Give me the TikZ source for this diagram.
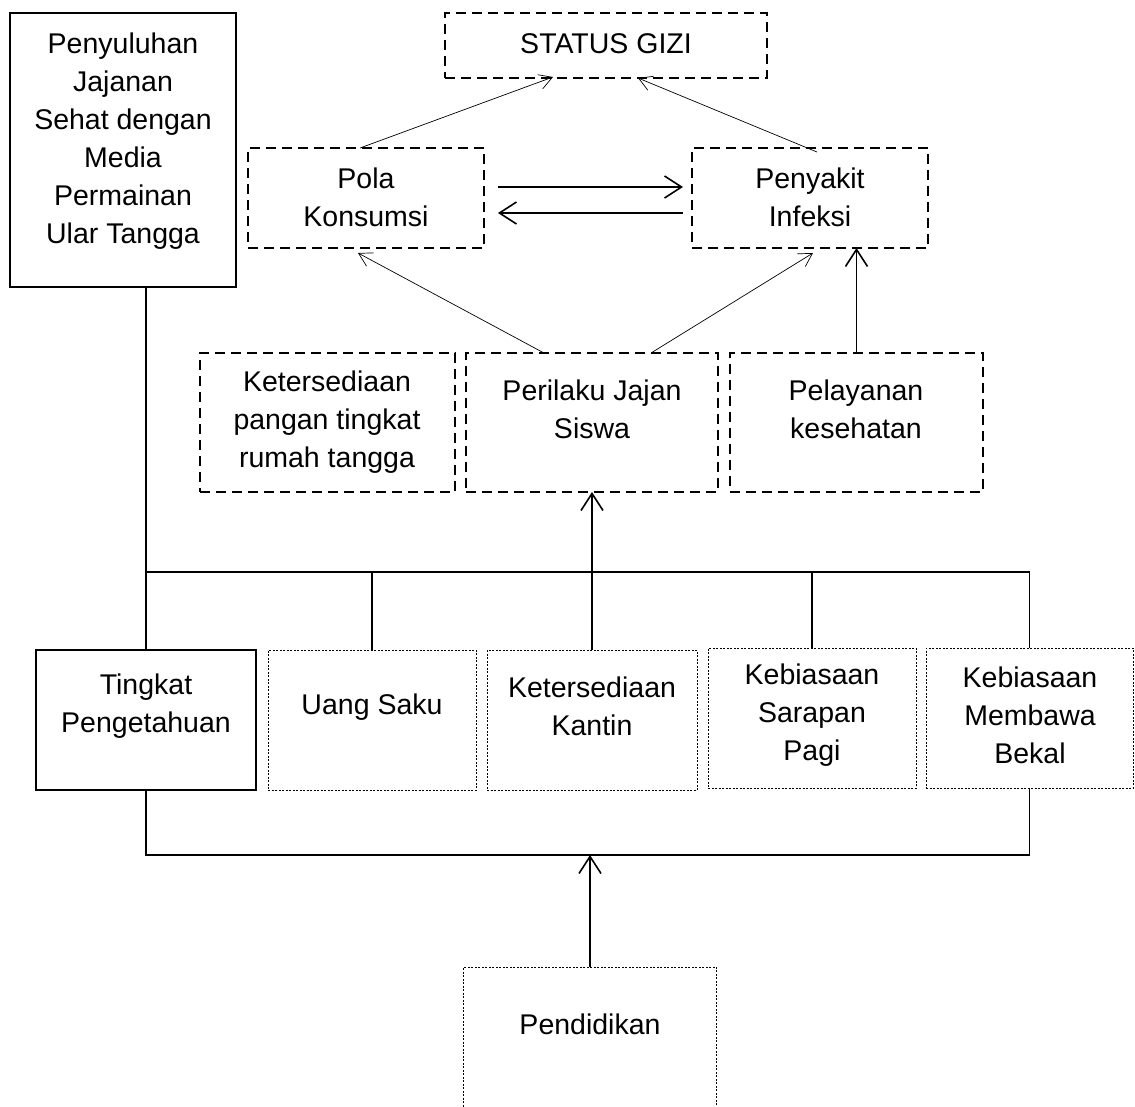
\documentclass[tikz,border=0pt]{standalone}
\usepackage{fontspec}
\setmainfont{Liberation Sans}
\usetikzlibrary{arrows.meta,calc}
\begin{document}
\begin{tikzpicture}[x=1pt,y=-1pt,
  every node/.style={inner sep=0pt, outer sep=0pt},
  solidbox/.style={draw, line width=2pt, rectangle},
  dashbox/.style={draw, line width=2pt, dash pattern=on 10pt off 6pt},
  dotbox/.style={draw, line width=0.9pt, dash pattern=on 2pt off 1.5pt},
  txt/.style={font=\fontsize{28.5}{38}\selectfont, align=center},
  bus/.style={line width=1.6pt},
  bigarrow/.style={line width=1.6pt, -{Straight Barb[length=17pt,width=22pt,line width=1.6pt]}},
  thinarrow/.style={line width=0.7pt, -{Straight Barb[length=13pt,width=15pt,line width=0.7pt]}},
]
\useasboundingbox (0,0) rectangle (1135,1106);
\clip (0,0) rectangle (1135,1106);

% boxes
\node[solidbox, minimum width=226pt, minimum height=274pt] (pen) at (123,150) {};
\node[dashbox, minimum width=322pt, minimum height=65pt] (sg) at (606,45.5) {};
\node[dashbox, minimum width=236pt, minimum height=100pt] (pk) at (366,198) {};
\node[dashbox, minimum width=236pt, minimum height=100pt] (pi) at (810,198) {};
\node[dashbox, minimum width=255pt, minimum height=139pt] (kp) at (327.5,422.5) {};
\node[dashbox, minimum width=252pt, minimum height=139pt] (pj) at (592,422.5) {};
\node[dashbox, minimum width=253pt, minimum height=139pt] (pl) at (856.5,422.5) {};
\node[solidbox, minimum width=220pt, minimum height=140pt] (tk) at (146,720) {};
\node[dotbox, minimum width=208pt, minimum height=140pt] (us) at (372,720) {};
\node[dotbox, minimum width=210pt, minimum height=140pt] (kk) at (592,720) {};
\node[dotbox, minimum width=208pt, minimum height=140pt] (ks) at (812,718) {};
\node[dotbox, minimum width=207pt, minimum height=140pt] (kb) at (1029.5,718) {};
\node[dotbox, minimum width=253pt, minimum height=186pt] (pd) at (590,1060) {};

% texts
\node[txt] (tpen) at (123,141) {Penyuluhan\\Jajanan\\Sehat dengan\\Media\\Permainan\\Ular Tangga};
\node[txt] (tsg) at (606,44) {STATUS GIZI};
\node[txt] (tpk) at (366,197) {Pola\\Konsumsi};
\node[txt] (tpi) at (810,197) {Penyakit\\Infeksi};
\node[txt] (tkp) at (327,422) {Ketersediaan\\pangan tingkat\\rumah tangga};
\node[txt] (tpj) at (592,409) {Perilaku Jajan\\Siswa};
\node[txt] (tpl) at (856,409) {Pelayanan\\kesehatan};
\node[txt] (ttk) at (146,706) {Tingkat\\Pengetahuan};
\node[txt] (tus) at (372,707) {Uang Saku};
\node[txt] (tkk) at (592,706) {Ketersediaan\\Kantin};
\node[txt] (tks) at (812,715) {Kebiasaan\\Sarapan\\Pagi};
\node[txt] (tkb) at (1030,715) {Kebiasaan\\Membawa\\Bekal};
\node[txt] (tpd) at (590,1024) {Pendidikan};

% bus lines
\coordinate (jt) at (146,572);
\coordinate (jb) at (146,855);
\draw[bus] (pen.south -| tk.north) -- (tk.north);
\draw[bus] (jt) -- (kb.north |- jt) -- (kb.north);
\draw[bus] (us.north |- jt) -- (us.north);
\draw[bus] (ks.north |- jt) -- (ks.north);
\draw[bigarrow] (kk.north) -- (pj.south);
\draw[bus] (tk.south) -- (tk.south |- jb) -- (kb.south |- jb) -- (kb.south);
\draw[bigarrow] (pd.north) -- (pd.north |- jb);

% upper arrows
\draw[bigarrow] (pl.north) -- (pl.north |- pi.south);
\draw[bigarrow] ($(pk.east)+(14,-11)$) -- ($(pi.west)+(-9,-11)$);
\draw[bigarrow] ($(pi.west)+(-9,15)$) -- ($(pk.east)+(14,15)$);
\draw[thinarrow] ($(pk.north west)+(112,0)$) -- ($(sg.south west)+(108,-1)$);
\draw[thinarrow] ($(pi.north west)+(125,4)$) -- ($(sg.south west)+(193,0)$);
\draw[thinarrow] ($(pj.north west)+(78,0)$) -- ($(pk.south west)+(110,5)$);
\draw[thinarrow] ($(pj.north west)+(185,0)$) -- ($(pi.south west)+(121,5)$);
\end{tikzpicture}
\end{document}
